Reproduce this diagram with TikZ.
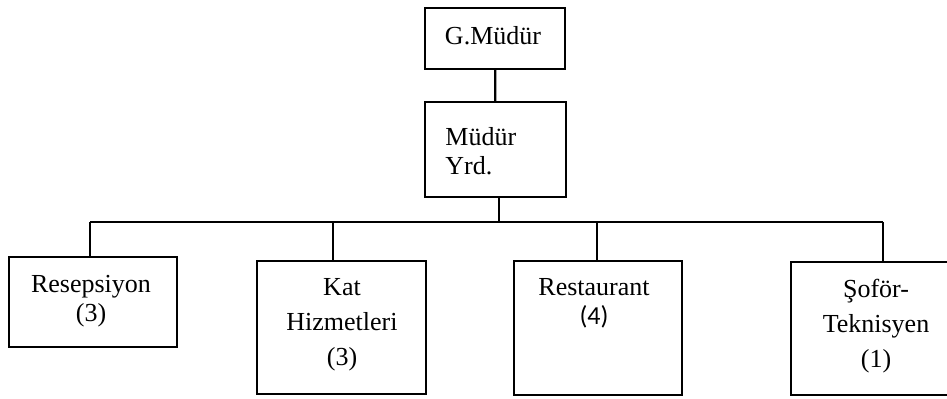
\documentclass[tikz,border=0pt]{standalone}
\usepackage{fontspec}
\setmainfont{Liberation Serif}
\newfontfamily\calibrifont{Carlito}
\usetikzlibrary{positioning}

\tikzset{
  orgbox/.style={draw, line width=1.1pt, inner sep=0pt},
  orgline/.style={line width=1.1pt},
  tighttext/.style={align=center, inner sep=0pt, anchor=base, font=\fontsize{13}{14.5}\selectfont},
  loosetext/.style={align=center, inner sep=0pt, anchor=base, font=\fontsize{13}{17.5}\selectfont}
}

\begin{document}
\begin{tikzpicture}[x=0.5pt, y=0.5pt]
            \useasboundingbox (0,0) rectangle (947,-399);

            \node[orgbox, minimum width=70pt, minimum height=30.5pt] (gm) at (495,-38.5) {};
            \node[orgbox, minimum width=70.5pt, minimum height=47.5pt] (my) at (495.5,-149.5) {};
            \node[orgbox, minimum width=84pt, minimum height=45pt] (res) at (93,-302) {};
            \node[orgbox, minimum width=84.5pt, minimum height=66.5pt] (kat) at (341.5,-327.5) {};
            \node[orgbox, minimum width=84pt, minimum height=67pt] (rest) at (598,-328) {};
            \node[orgbox, minimum width=92pt, minimum height=66.5pt] (sof) at (883,-328.5) {};

            \node[tighttext] (gmtext) at (493,-45) {G.Müdür};
            \node[tighttext, align=left, anchor=base west] (mytext) at (445,-175) {Müdür\\Yrd.};
            \node[tighttext] (restext) at (91,-322) {Resepsiyon\\(3)};
            \node[loosetext] (kattext) at (342,-366) {Kat\\Hizmetleri\\(3)};
            \node[tighttext] (resttext) at (594,-325) {Restaurant\\{\calibrifont(4)}};
            \node[loosetext] (softext) at (876,-368) {Şoför-\\Teknisyen\\(1)};

            \coordinate (busres) at (90,-222);
            \coordinate (busmy) at (499,-222);
            \coordinate (buskat) at (333,-222);
            \coordinate (busrest) at (597,-222);
            \coordinate (bussof) at (883,-222);

            \draw[orgline] (gm) to (my);
            \draw[orgline] (busmy |- my.south) to (busmy);
            \draw[orgline] (busres) to (bussof);
            \draw[orgline] (busres) to (busres |- res.north); \draw[orgline] (buskat) to (buskat |- kat.north);
            \draw[orgline] (busrest) to (busrest |- rest.north); \draw[orgline] (bussof) to (sof.north);
        \end{tikzpicture}
\end{document}
